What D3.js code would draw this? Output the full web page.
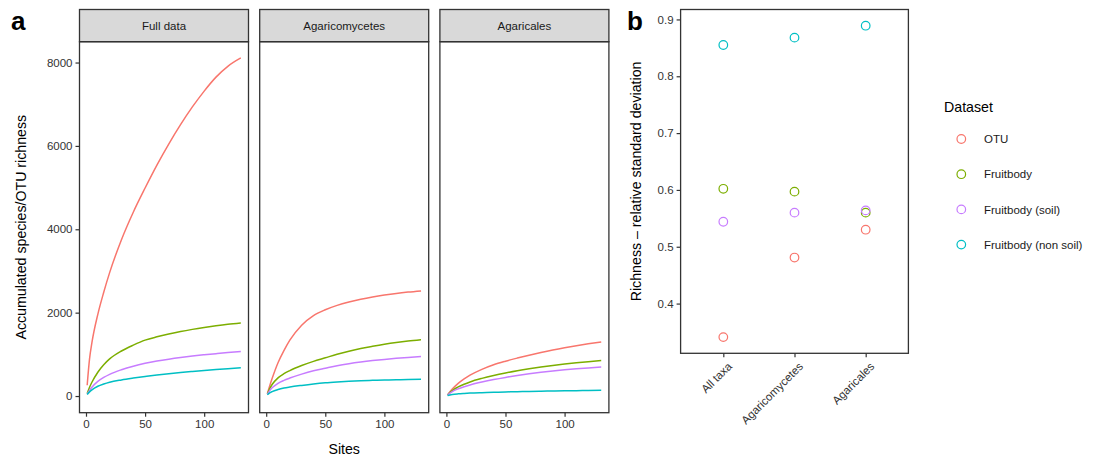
<!DOCTYPE html>
<html><head><meta charset="utf-8">
<script src="https://cdn.jsdelivr.net/npm/d3@7"></script>
<style>
body{margin:0;background:#fff;}
text{font-family:"Liberation Sans",Arial,Helvetica,sans-serif;}
</style></head>
<body><svg id="c" width="1094" height="459"></svg>
<script>
// ---------- data ----------
const facets = ["Full data", "Agaricomycetes", "Agaricales"];
const datasets = ["OTU", "Fruitbody", "Fruitbody (soil)", "Fruitbody (non soil)"];
const colors = ["#F8766D", "#7CAE00", "#C77CFF", "#00BFC4"];
const sites = [1, 3, 5, 10, 15, 20, 30, 40, 50, 60, 70, 80, 90, 100, 110, 120, 131];

// Full data
const fullOTU       = [260, 890, 1280, 1960, 2490, 2960, 3750, 4410, 4990, 5540, 6045, 6510, 6935, 7315, 7650, 7910, 8110];
const fullFruit     = [60, 210, 330, 570, 750, 890, 1080, 1220, 1340, 1420, 1488, 1548, 1599, 1644, 1684, 1719, 1750];
const fullSoil      = [45, 135, 211, 351, 446, 521, 631, 716, 784, 839, 885, 925, 960, 990, 1017, 1042, 1066];
const fullNonSoil   = [35, 99, 149, 234, 289, 332, 387, 430, 468, 504, 536, 565, 591, 615, 637, 657, 677];
// Agaricomycetes
const agmOTU        = [60, 250, 420, 800, 1090, 1340, 1700, 1930, 2070, 2175, 2255, 2320, 2375, 2422, 2462, 2494, 2522];
const agmFruit      = [50, 180, 276, 436, 536, 611, 731, 831, 916, 1001, 1076, 1141, 1193, 1241, 1283, 1319, 1352];
const agmSoil       = [40, 130, 196, 306, 376, 431, 526, 606, 668, 728, 776, 816, 850, 879, 904, 926, 947];
const agmNonSoil    = [30, 75, 105, 155, 190, 215, 255, 290, 318, 338, 354, 366, 376, 384, 391, 396, 400];
// Agaricales
const agaOTU        = [25, 101, 167, 302, 410, 500, 640, 750, 835, 910, 980, 1045, 1105, 1159, 1208, 1252, 1296];
const agaFruit      = [25, 85, 133, 218, 283, 338, 423, 493, 553, 606, 653, 695, 733, 767, 797, 824, 850];
const agaSoil       = [20, 70, 108, 173, 223, 265, 335, 395, 447, 493, 534, 570, 602, 630, 654, 675, 695];
const agaNonSoil    = [10, 25, 36, 52, 62, 70, 81, 90, 98, 105, 111, 116, 121, 125, 129, 132, 136];

const curveSeries = [
  [fullOTU, fullFruit, fullSoil, fullNonSoil],
  [agmOTU, agmFruit, agmSoil, agmNonSoil],
  [agaOTU, agaFruit, agaSoil, agaNonSoil]
];

const yTicksA = [0, 2000, 4000, 6000, 8000];
const xTicksA = [0, 50, 100];

// Panel b
const groupsB = ["All taxa", "Agaricomycetes", "Agaricales"];
const rsdOTU     = [0.341, 0.481, 0.530];
const rsdFruit   = [0.602, 0.597, 0.560];
const rsdSoil    = [0.544, 0.560, 0.564];
const rsdNonSoil = [0.855, 0.868, 0.889];
const rsdSeries = [rsdOTU, rsdFruit, rsdSoil, rsdNonSoil];
const yTicksB = [0.4, 0.5, 0.6, 0.7, 0.8, 0.9];

// ---------- drawing ----------
const svg = d3.select("#c");
const dark = "#333333";
const tickCol = "#333333";
const tickFs = 11.5;

svg.append("text").attr("x", 11).attr("y", 30).attr("font-size", 26).attr("font-weight", "bold").text("a");
svg.append("text").attr("x", 627).attr("y", 30).attr("font-size", 26).attr("font-weight", "bold").text("b");

const stripTop = 9.5, stripBot = 41.7, panelBot = 412.7;
const facetW = 169, facetGap = 11.2, left0 = 79.5;

const y = d3.scaleLinear().domain([-400, 8500]).range([panelBot, stripBot]);

facets.forEach((f, i) => {
  const x0 = left0 + i * (facetW + facetGap);
  const x = d3.scaleLinear().domain([-5.5, 137.5]).range([x0, x0 + facetW]);
  const g = svg.append("g");
  const cid = "clip" + i;
  svg.append("clipPath").attr("id", cid).append("rect")
    .attr("x", x0).attr("y", stripBot).attr("width", facetW).attr("height", panelBot - stripBot);
  const line = d3.line().x((d, k) => x(sites[k])).y(d => y(d)).curve(d3.curveMonotoneX);
  curveSeries[i].forEach((vals, s) => {
    g.append("path").attr("d", line(vals)).attr("fill", "none")
      .attr("stroke", colors[s]).attr("stroke-width", 1.5).attr("clip-path", `url(#${cid})`);
  });
  g.append("rect").attr("x", x0).attr("y", stripTop).attr("width", facetW).attr("height", stripBot - stripTop)
    .attr("fill", "#d9d9d9").attr("stroke", dark).attr("stroke-width", 1.3);
  g.append("text").attr("x", x0 + facetW / 2).attr("y", stripTop + (stripBot - stripTop) / 2 + 4.2)
    .attr("text-anchor", "middle").attr("font-size", 11.5).attr("fill", "#1a1a1a").text(f);
  g.append("rect").attr("x", x0).attr("y", stripBot).attr("width", facetW).attr("height", panelBot - stripBot)
    .attr("fill", "none").attr("stroke", dark).attr("stroke-width", 1.3);
  const xa = g.append("g").attr("transform", `translate(0,${panelBot})`)
    .call(d3.axisBottom(x).tickValues(xTicksA).tickSize(4).tickPadding(3).tickFormat(d3.format("d")));
  xa.select(".domain").remove();
  xa.selectAll("line").attr("stroke", dark).attr("stroke-width", 1.2);
  xa.selectAll("text").attr("font-size", tickFs).attr("fill", tickCol).attr("font-family", null);
  if (i === 0) {
    const ya = g.append("g").attr("transform", `translate(${x0},0)`)
      .call(d3.axisLeft(y).tickValues(yTicksA).tickSize(4).tickPadding(3).tickFormat(d3.format("d")));
    ya.select(".domain").remove();
    ya.selectAll("line").attr("stroke", dark).attr("stroke-width", 1.2);
    ya.selectAll("text").attr("font-size", tickFs).attr("fill", tickCol).attr("font-family", null);
  }
});

svg.append("text").attr("transform", `translate(26,${(stripBot + panelBot) / 2}) rotate(-90)`)
  .attr("text-anchor", "middle").attr("font-size", 14.2).attr("fill", "#000")
  .text("Accumulated species/OTU richness");
svg.append("text").attr("x", (left0 + left0 + 3 * facetW + 2 * facetGap) / 2).attr("y", 454)
  .attr("text-anchor", "middle").attr("font-size", 14.2).attr("fill", "#000").text("Sites");

// ---------- panel b ----------
const bL = 680.6, bR = 908.4, bT = 9.5, bB = 353.3;
const xb = d3.scalePoint().domain(groupsB).range([bL, bR]).padding(0.6);
const yb = d3.scaleLinear().domain([0.3125, 0.9175]).range([bB, bT]);

const gb = svg.append("g");
gb.append("rect").attr("x", bL).attr("y", bT).attr("width", bR - bL).attr("height", bB - bT)
  .attr("fill", "none").attr("stroke", dark).attr("stroke-width", 1.3);
rsdSeries.forEach((vals, s) => {
  gb.selectAll(null).data(vals).enter().append("circle")
    .attr("cx", (d, k) => xb(groupsB[k])).attr("cy", d => yb(d)).attr("r", 4.3)
    .attr("fill", "none").attr("stroke", colors[s]).attr("stroke-width", 1.2);
});
const yab = gb.append("g").attr("transform", `translate(${bL},0)`)
  .call(d3.axisLeft(yb).tickValues(yTicksB).tickSize(4).tickPadding(3).tickFormat(d3.format(".1f")));
yab.select(".domain").remove();
yab.selectAll("line").attr("stroke", dark).attr("stroke-width", 1.2);
yab.selectAll("text").attr("font-size", tickFs).attr("fill", tickCol).attr("font-family", null);

const xab = gb.append("g").attr("transform", `translate(0,${bB})`)
  .call(d3.axisBottom(xb).tickSize(4).tickPadding(3));
xab.select(".domain").remove();
xab.selectAll("line").attr("stroke", dark).attr("stroke-width", 1.2);
xab.selectAll("text").attr("font-size", tickFs).attr("fill", tickCol).attr("font-family", null)
  .attr("text-anchor", "end")
  .attr("transform", "translate(4,9) rotate(-45)").attr("y", 0).attr("dy", "0.6em");

svg.append("text").attr("transform", `translate(641,${(bT + bB) / 2}) rotate(-90)`)
  .attr("text-anchor", "middle").attr("font-size", 14.2).attr("fill", "#000")
  .text("Richness \u2013 relative standard deviation");

// legend
const lg = svg.append("g");
lg.append("text").attr("x", 944).attr("y", 112).attr("font-size", 14.2).attr("fill", "#000").text("Dataset");
datasets.forEach((d, s) => {
  const cy = 139 + s * 35.2;
  lg.append("circle").attr("cx", 961.3).attr("cy", cy).attr("r", 4.3)
    .attr("fill", "none").attr("stroke", colors[s]).attr("stroke-width", 1.2);
  lg.append("text").attr("x", 984).attr("y", cy + 4.1).attr("font-size", 11.5).attr("fill", "#1a1a1a").text(d);
});
</script>
</body></html>
